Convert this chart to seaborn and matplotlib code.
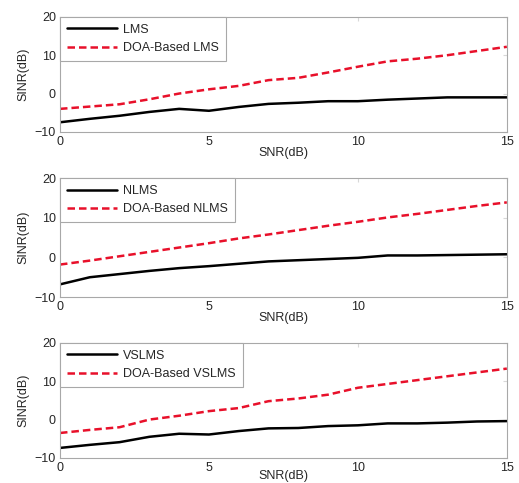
import numpy as np
import pandas as pd
import matplotlib
matplotlib.use("Agg")
import matplotlib.pyplot as plt
import seaborn as sns

# SNR axis (dB)
snr = list(range(16))

# panel 1 : LMS
lms = [-7.5, -6.6, -5.8, -4.8, -4.0, -4.5, -3.5, -2.7, -2.4, -2.0, -2.0, -1.6, -1.3, -1.0, -1.0, -1.0]
doa_lms = [-4.0, -3.4, -2.8, -1.5, 0.0, 1.1, 2.0, 3.5, 4.1, 5.5, 7.0, 8.4, 9.1, 10.0, 11.1, 12.2]

# panel 2 : NLMS
nlms = [-6.8, -5.0, -4.2, -3.4, -2.7, -2.2, -1.6, -1.0, -0.7, -0.4, -0.1, 0.5, 0.5, 0.6, 0.7, 0.8]
doa_nlms = [-1.8, -0.8, 0.3, 1.4, 2.5, 3.6, 4.8, 5.8, 6.9, 8.0, 9.0, 10.1, 11.0, 12.0, 13.0, 13.9]

# panel 3 : VSLMS
vslms = [-7.4, -6.6, -5.9, -4.5, -3.7, -3.9, -3.0, -2.3, -2.2, -1.7, -1.5, -1.0, -1.0, -0.8, -0.5, -0.4]
doa_vslms = [-3.5, -2.7, -2.0, 0.0, 1.0, 2.2, 3.0, 4.8, 5.5, 6.5, 8.3, 9.3, 10.3, 11.3, 12.3, 13.3]

panels = [
    ("LMS", lms, doa_lms),
    ("NLMS", nlms, doa_nlms),
    ("VSLMS", vslms, doa_vslms),
]

sns.set_style("white")
plt.rcParams["font.family"] = ["Liberation Sans", "DejaVu Sans"]

fig = plt.figure(figsize=(5.19, 4.83), dpi=100)
positions = [
    [0.1156, 0.727, 0.861, 0.238],
    [0.1156, 0.385, 0.861, 0.246],
    [0.1156, 0.052, 0.861, 0.238],
]
xlabel_pads = [-1, -1, -3]

grey = "#a8a8a8"
fs = 9
for pos, pad, (name, base, doa) in zip(positions, xlabel_pads, panels):
    ax = fig.add_axes(pos)
    df = pd.DataFrame({"SNR": snr, "base": base, "doa": doa})
    sns.lineplot(data=df, x="SNR", y="base", ax=ax, color="black", lw=1.8, label=name)
    sns.lineplot(data=df, x="SNR", y="doa", ax=ax, color="#e8102a", lw=1.8,
                 linestyle=(0, (3, 1.6)), label="DOA-Based " + name)
    ax.set_xlim(0, 15)
    ax.set_ylim(-10, 20)
    ax.set_xticks([0, 5, 10, 15])
    ax.set_yticks([-10, 0, 10, 20])
    ax.tick_params(direction="in", length=3, color="#d8d8d8", labelsize=fs,
                   pad=3, top=True, right=True)
    for s in ax.spines.values():
        s.set_color(grey)
        s.set_linewidth(0.8)
    ax.set_xlabel("SNR(dB)", fontsize=fs, labelpad=pad)
    ax.set_ylabel("SINR(dB)", fontsize=fs, labelpad=4)
    leg = ax.legend(loc="upper left", fontsize=fs, handlelength=4.0,
                    borderaxespad=0, fancybox=False, framealpha=1,
                    borderpad=0.55, labelspacing=0.5, handletextpad=0.5)
    leg.get_frame().set_edgecolor(grey)
    leg.get_frame().set_linewidth(0.8)

fig.savefig("out.png", dpi=100)
